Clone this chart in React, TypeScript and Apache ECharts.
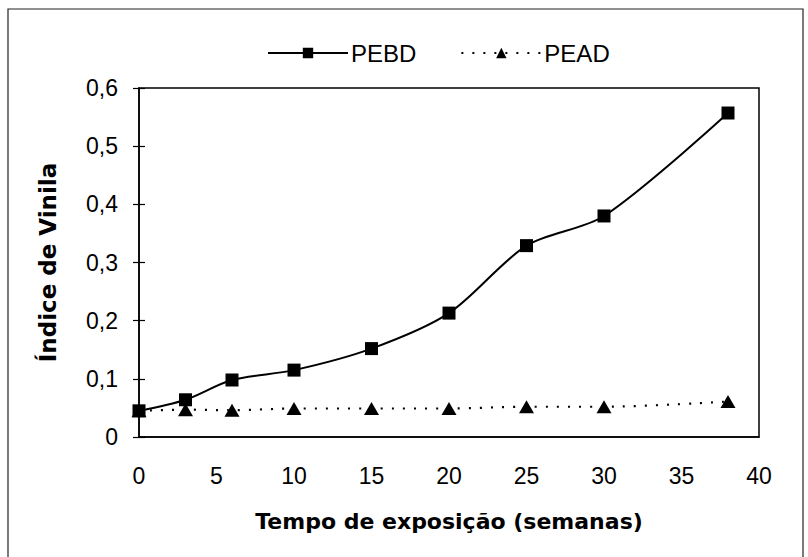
import React, { useEffect, useRef } from "react";
import * as echarts from "echarts";

const weeks = [0, 3, 6, 10, 15, 20, 25, 30, 38];
const pebd = [0.045, 0.064, 0.098, 0.115, 0.152, 0.213, 0.329, 0.38, 0.557];
const pead = [0.045, 0.047, 0.046, 0.049, 0.049, 0.049, 0.052, 0.052, 0.061];
const seriesNames = ["PEBD", "PEAD"];
const xTitle = "Tempo de exposição (semanas)";
const yTitle = "Índice de Vinila";

const FONT = "'Liberation Sans', Arial, sans-serif";
const TITLE_FONT = "'DejaVu Sans', 'Liberation Sans', sans-serif";

export default function App() {
  const ref = useRef<HTMLDivElement>(null);
  useEffect(() => {
    if (!ref.current) return;
    const chart = echarts.init(ref.current, undefined, { renderer: "svg" });
    const fmtY = (v: number) => (v === 0 ? "0" : v.toFixed(1).replace(".", ","));
    chart.setOption({
      animation: false,
      backgroundColor: "#ffffff",
      textStyle: { fontFamily: FONT, color: "#000" },
      graphic: [
        {
          type: "polyline",
          shape: { points: [[8, 560], [8, 9], [803, 9], [803, 560]] },
          style: { stroke: "#222", lineWidth: 1.2, fill: "none" },
          silent: true,
        },
      ],
      legend: {
        left: 262,
        top: 36,
        itemWidth: 80,
        itemHeight: 13,
        itemGap: 44,
        textStyle: { fontFamily: FONT, fontSize: 24, color: "#000", padding: [0, 0, 0, -2] },
        data: seriesNames,
      },
      grid: {
        left: 139,
        right: 49,
        top: 88,
        bottom: 120,
        show: true,
        borderColor: "#000",
        borderWidth: 1.5,
        containLabel: false,
      },
      xAxis: {
        type: "value",
        min: 0,
        max: 40,
        interval: 5,
        name: xTitle,
        nameLocation: "middle",
        nameGap: 73,
        nameTextStyle: { fontFamily: TITLE_FONT, fontSize: 22, fontWeight: "bold", color: "#000" },
        axisLine: { lineStyle: { color: "#000", width: 1.5 } },
        axisTick: { show: false },
        splitLine: { show: false },
        axisLabel: { fontFamily: FONT, fontSize: 23, color: "#000", margin: 27 },
      },
      yAxis: [
        {
          type: "value",
          min: 0,
          max: 0.6,
          interval: 0.1,
          name: yTitle,
          nameLocation: "middle",
          nameGap: 80,
          nameRotate: 90,
          nameTextStyle: { fontFamily: TITLE_FONT, fontSize: 23, fontWeight: "bold", color: "#000" },
          axisLine: { show: true, lineStyle: { color: "#000", width: 1.5 } },
          axisTick: { show: true, length: 6, lineStyle: { color: "#000", width: 1.2 } },
          splitLine: { show: false },
          axisLabel: { fontFamily: FONT, fontSize: 23, color: "#000", margin: 21, formatter: fmtY },
        },
        {
          type: "value",
          min: 0,
          max: 0.6,
          interval: 0.1,
          position: "left",
          axisLine: { show: false },
          axisTick: { show: true, inside: true, length: 6, lineStyle: { color: "#000", width: 1.2 } },
          axisLabel: { show: false },
          splitLine: { show: false },
        },
      ],
      series: [
        {
          name: seriesNames[0],
          type: "line",
          yAxisIndex: 0,
          data: weeks.map((w, i) => [w, pebd[i]]),
          smooth: 0.3,
          symbol: "rect",
          symbolSize: 13,
          itemStyle: { color: "#000" },
          lineStyle: { color: "#000", width: 2 },
          z: 3,
        },
        {
          name: seriesNames[1],
          type: "line",
          yAxisIndex: 0,
          data: weeks.map((w, i) => [w, pead[i]]),
          smooth: 0.3,
          symbol: "triangle",
          symbolSize: [15, 13],
          itemStyle: { color: "#000" },
          lineStyle: { color: "#000", width: 2.2, type: [2, 9] },
          z: 2,
        },
      ],
    });
    return () => chart.dispose();
  }, []);
  return (
    <div
      ref={ref}
      style={{ position: "fixed", left: 0, top: 0, width: 808, height: 557, background: "#fff" }}
    />
  );
}
